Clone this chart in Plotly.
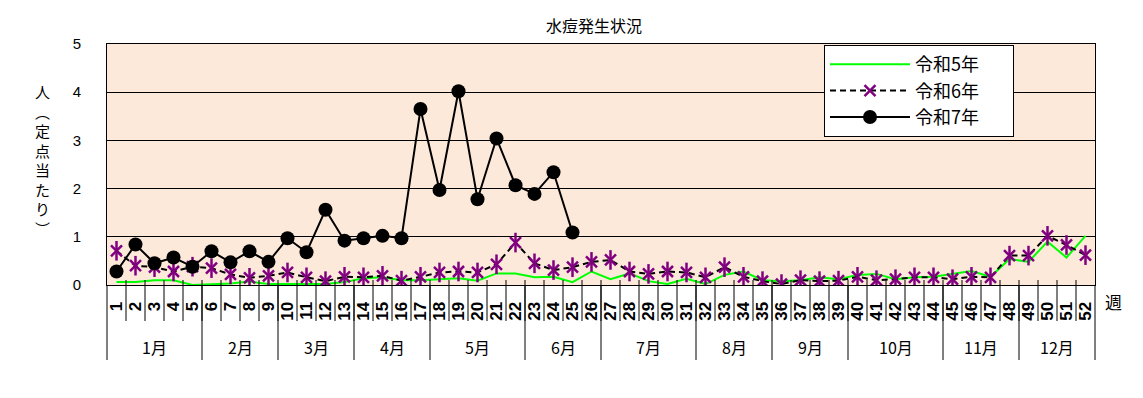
import plotly.graph_objects as go

weeks = list(range(1, 53))
week_labels = [str(w) for w in weeks]
month_names = ["1月", "2月", "3月", "4月", "5月", "6月", "7月", "8月", "9月", "10月", "11月", "12月"]
month_week_counts = [5, 4, 4, 4, 5, 4, 5, 4, 4, 5, 4, 4]

r5 = [0.06, 0.06, 0.10, 0.10, 0.00, 0.02, 0.03, 0.07, 0.02, 0.02,
      0.02, 0.02, 0.06, 0.14, 0.16, 0.10, 0.10, 0.12, 0.14, 0.09,
      0.24, 0.24, 0.16, 0.17, 0.06, 0.28, 0.12, 0.24, 0.08, 0.02,
      0.13, 0.02, 0.21, 0.28, 0.10, 0.08, 0.10, 0.16, 0.12, 0.21,
      0.23, 0.12, 0.16, 0.17, 0.23, 0.29, 0.17, 0.54, 0.48, 0.90,
      0.57, 1.02]
r6 = [0.71, 0.40, 0.37, 0.28, 0.38, 0.35, 0.22, 0.15, 0.19, 0.26,
      0.16, 0.08, 0.17, 0.16, 0.19, 0.09, 0.17, 0.26, 0.28, 0.26,
      0.43, 0.88, 0.45, 0.31, 0.37, 0.48, 0.52, 0.28, 0.23, 0.28,
      0.26, 0.16, 0.37, 0.17, 0.08, 0.02, 0.10, 0.08, 0.09, 0.17,
      0.10, 0.12, 0.16, 0.16, 0.12, 0.17, 0.16, 0.61, 0.61, 1.02,
      0.83, 0.62]
r7 = [0.28, 0.84, 0.45, 0.57, 0.38, 0.70, 0.47, 0.70, 0.48, 0.97,
      0.68, 1.56, 0.92, 0.97, 1.02, 0.97, 3.65, 1.97, 4.02, 1.78,
      3.04, 2.07, 1.89, 2.34, 1.09]

JP = "Noto Sans CJK JP"
PLOT_H = 241.0  # plot area height in px (for paper-unit conversions)
PLOT_W = 988.0
PAD = "\u00a0" * 7

fig = go.Figure()
fig.add_trace(go.Scatter(x=weeks, y=r5, mode="lines", name="令和5年" + PAD,
                         line=dict(color="#00FF00", width=2),
                         legendgroup="a"))
fig.add_trace(go.Scatter(x=weeks, y=r6, mode="lines+markers", name="令和6年" + PAD,
                         line=dict(color="black", width=2, dash="6px,4px"),
                         marker=dict(symbol="x-thin-open", size=11, color="#800080",
                                     line=dict(color="#800080", width=2.5)),
                         legendgroup="b"))
fig.add_trace(go.Scatter(x=weeks, y=r6, mode="markers", showlegend=False,
                         marker=dict(symbol="line-ns-open", size=14, color="#800080",
                                     line=dict(color="#800080", width=2.5)),
                         hoverinfo="skip"))
fig.add_trace(go.Scatter(x=weeks[:len(r7)], y=r7, mode="lines+markers", name="令和7年" + PAD,
                         line=dict(color="black", width=2),
                         marker=dict(symbol="circle", size=14, color="black"),
                         legendgroup="c"))

shapes = []
# week boundary ticks
for w in weeks[:-1]:
    shapes.append(dict(type="line", xref="x", yref="paper", x0=w + 0.5, x1=w + 0.5,
                       y0=5 / PLOT_H, y1=-36 / PLOT_H, line=dict(color="black", width=1)))
# month dividers and labels
annotations = []
start = 0.5
for name, cnt in zip(month_names, month_week_counts):
    end = start + cnt
    annotations.append(dict(text=name, xref="x", yref="paper", x=(start + end) / 2,
                            y=-62 / PLOT_H, showarrow=False, yanchor="middle",
                            font=dict(family=JP, size=16, color="black")))
    start = end
bounds = [0.5]
for cnt in month_week_counts:
    bounds.append(bounds[-1] + cnt)
for b in bounds:
    if b == bounds[0]:
        xr, xv = "paper", 0
    elif b == bounds[-1]:
        xr, xv = "paper", 1
    else:
        xr, xv = "x", b
    shapes.append(dict(type="line", xref=xr, yref="paper", x0=xv, x1=xv,
                       y0=0, y1=-75 / PLOT_H, line=dict(color="black", width=1)))

annotations.append(dict(text="週", xref="paper", yref="paper", x=1 + 18 / PLOT_W, y=-16 / PLOT_H,
                        showarrow=False, xanchor="center", yanchor="middle",
                        font=dict(family=JP, size=17, color="black")))
annotations.append(dict(text="<br>".join(list("人︵定点当たり︶")), xref="paper", yref="paper",
                        x=-65 / PLOT_W, y=0.52, showarrow=False, xanchor="center", yanchor="middle",
                        font=dict(family=JP, size=15, color="black")))

# The page has an 8px body margin, so the figure is 8px smaller and margins shifted.
fig.update_layout(
    width=1135, height=390,
    margin=dict(l=99, r=48, t=36, b=113),
    paper_bgcolor="white", plot_bgcolor="#FDE9DA",
    title=dict(text="水痘発生状況", x=(594 - 8) / 1135, xanchor="center",
               y=1 - (26 - 8) / 390, yanchor="middle",
               font=dict(family=JP, size=16, color="black")),
    showlegend=True,
    legend=dict(x=(824 - 107) / PLOT_W, y=1 - 1 / PLOT_H, xanchor="left", yanchor="top",
                bgcolor="white", bordercolor="black", borderwidth=1,
                font=dict(family=JP, size=18, color="black"),
                itemwidth=80, tracegroupgap=0, traceorder="normal"),
    shapes=shapes, annotations=annotations,
)
fig.update_xaxes(range=[0.5, 52.5], tickmode="array", tickvals=weeks, ticktext=week_labels,
                 tickangle=-90, ticks="", ticklabelstandoff=9,
                 tickfont=dict(family="Liberation Sans", size=17, color="black", weight="bold"),
                 showgrid=False, zeroline=False, showline=True, linecolor="black", linewidth=1,
                 mirror=True)
fig.update_yaxes(range=[0, 5], tickmode="array", tickvals=[0, 1, 2, 3, 4, 5],
                 ticks="", ticklabelstandoff=22,
                 tickfont=dict(family="Liberation Sans", size=15, color="black"),
                 showgrid=True, gridcolor="black", gridwidth=1, zeroline=False,
                 showline=True, linecolor="black", linewidth=1, mirror=True)

fig.write_html("out.html")
